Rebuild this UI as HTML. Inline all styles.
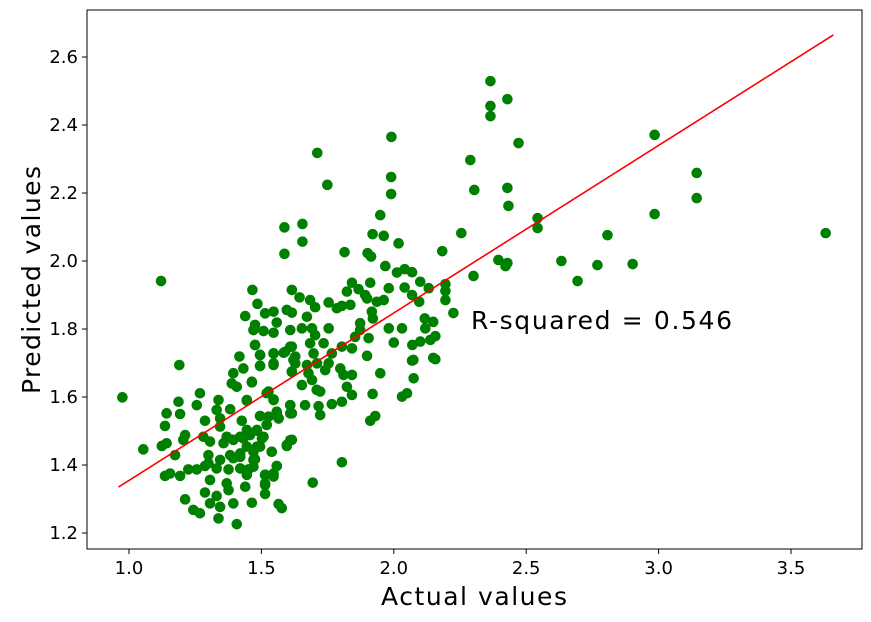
<!DOCTYPE html>
<html><head><meta charset="utf-8"><style>
body{margin:0;background:#fff;}
svg{display:block;font-family:"DejaVu Sans","Liberation Sans",sans-serif;}
</style></head><body>
<svg id="chart" width="871" height="622">
<rect x="87" y="10" width="775" height="539" fill="#fff" stroke="#000" stroke-width="1"/>
<g id="points"></g>
<g id="fit"></g>
<g id="xticks"></g>
<g id="yticks"></g>
<text x="474" y="605" text-anchor="middle" font-size="25" textLength="186">Actual values</text>
<text transform="translate(40,280) rotate(-90)" text-anchor="middle" font-size="25" textLength="228">Predicted values</text>
<text x="471" y="329" font-size="25" textLength="261">R-squared = 0.546</text>
</svg>
<script>
const xTicks=[1.0,1.5,2.0,2.5,3.0,3.5];
const xTickLabels=["1.0","1.5","2.0","2.5","3.0","3.5"];
const yTicks=[1.2,1.4,1.6,1.8,2.0,2.2,2.4,2.6];
const yTickLabels=["1.2","1.4","1.6","1.8","2.0","2.2","2.4","2.6"];
const fitX=[0.96,3.66];
const fitY=[1.335,2.665];
const actual=[1.476,1.417,1.495,1.546,1.590,1.615,1.190,1.432,1.495,1.546,1.621,1.394,1.388,1.464,1.407,1.615,0.975,1.268,1.187,1.256,1.338,1.445,1.527,1.546,1.609,1.142,1.193,1.331,1.382,1.615,1.287,1.344,1.426,1.495,1.558,1.136,1.344,1.483,1.520,1.565,1.212,1.281,1.369,1.420,1.457,1.508,1.615,1.054,1.124,1.142,1.205,1.306,1.357,1.394,1.445,1.495,1.596,1.174,1.300,1.382,1.420,1.470,1.539,1.300,1.344,1.394,1.470,1.136,1.155,1.193,1.224,1.256,1.287,1.331,1.376,1.420,1.470,1.558,1.306,1.369,1.445,1.514,1.546,1.439,1.514,1.212,1.287,1.331,1.376,1.394,1.464,1.514,1.565,1.577,1.243,1.268,1.306,1.344,1.338,1.407,
1.949,1.587,1.655,1.920,1.962,1.655,2.018,1.587,1.814,1.901,1.914,1.968,2.012,2.041,2.069,1.466,1.615,1.842,1.911,1.867,1.823,1.892,1.981,2.041,2.100,2.132,1.644,1.684,1.754,1.899,1.936,1.962,2.069,2.096,1.485,1.596,1.615,1.703,1.785,1.804,1.836,1.439,1.514,1.546,1.672,1.917,1.921,1.476,1.558,1.470,1.508,1.546,1.609,1.653,1.691,1.754,1.703,1.873,1.873,1.981,2.031,2.117,2.119,2.157,1.854,1.905,2.000,2.100,2.138,1.476,1.609,1.684,1.735,1.804,1.842,1.495,1.546,1.584,1.628,1.697,1.766,1.899,1.546,1.628,1.672,1.710,1.754,2.069,2.157,1.495,1.615,1.678,1.741,1.798,1.810,1.842,1.949,2.075,1.464,1.653,1.691,1.823,1.709,1.722,1.842,1.920,2.031,2.050,1.520,1.546,1.445,1.609,1.665,1.716,1.766,1.804,1.609,1.722,1.495,1.527,1.558,1.565,1.520,1.930,1.911,1.445,1.483,1.432,1.502,1.609,1.596,1.483,1.539,1.420,1.476,1.804,1.558,1.451,1.514,1.546,1.514,1.694,
1.121,2.365,2.365,2.365,2.429,2.471,2.289,2.304,2.429,2.433,2.543,2.543,2.429,2.395,2.422,2.301,2.255,2.183,2.195,2.195,2.149,2.070,2.074,2.149,2.633,2.694,2.769,2.807,2.902,2.985,2.985,3.144,3.144,3.631,2.225,2.195,1.749,1.711,1.991,1.990,1.990];
const predicted=[1.753,1.719,1.724,1.728,1.733,1.748,1.694,1.684,1.691,1.699,1.709,1.670,1.640,1.645,1.630,1.675,1.599,1.611,1.586,1.576,1.591,1.589,1.616,1.591,1.576,1.552,1.550,1.562,1.564,1.552,1.530,1.537,1.530,1.544,1.557,1.515,1.513,1.501,1.518,1.537,1.488,1.483,1.483,1.483,1.488,1.483,1.474,1.446,1.456,1.464,1.474,1.469,1.464,1.474,1.454,1.454,1.459,1.429,1.429,1.429,1.434,1.439,1.439,1.405,1.415,1.420,1.415,1.368,1.375,1.368,1.387,1.387,1.397,1.390,1.387,1.390,1.395,1.397,1.356,1.346,1.371,1.371,1.375,1.336,1.346,1.299,1.319,1.309,1.326,1.287,1.289,1.315,1.285,1.273,1.268,1.258,1.287,1.277,1.243,1.226,
2.135,2.099,2.109,2.079,2.074,2.057,2.052,2.021,2.026,2.023,2.013,1.985,1.966,1.976,1.967,1.915,1.915,1.936,1.936,1.917,1.910,1.900,1.920,1.922,1.939,1.920,1.893,1.885,1.878,1.890,1.880,1.885,1.900,1.880,1.874,1.856,1.848,1.864,1.861,1.868,1.871,1.838,1.846,1.851,1.836,1.851,1.831,1.812,1.819,1.797,1.794,1.789,1.797,1.802,1.802,1.802,1.782,1.817,1.797,1.802,1.802,1.831,1.802,1.779,1.777,1.773,1.760,1.763,1.768,1.753,1.748,1.758,1.758,1.748,1.743,1.723,1.728,1.730,1.719,1.728,1.728,1.721,1.694,1.699,1.694,1.699,1.699,1.707,1.711,1.692,1.674,1.670,1.679,1.684,1.665,1.665,1.670,1.655,1.643,1.635,1.650,1.630,1.621,1.616,1.606,1.609,1.601,1.611,1.611,1.593,1.591,1.576,1.576,1.573,1.579,1.586,1.552,1.547,1.544,1.542,1.552,1.537,1.518,1.544,1.530,1.503,1.503,1.478,1.478,1.473,1.456,1.454,1.439,1.424,1.417,1.408,1.397,1.387,1.371,1.366,1.341,1.348,
1.941,2.529,2.456,2.426,2.476,2.347,2.297,2.209,2.215,2.162,2.126,2.097,1.994,2.003,1.985,1.956,2.082,2.029,1.932,1.912,1.821,1.753,1.709,1.715,2.000,1.941,1.988,2.076,1.991,2.371,2.138,2.259,2.185,2.082,1.847,1.885,2.224,2.318,2.365,2.247,2.197];

const NS="http://www.w3.org/2000/svg";
const L=87,R=862,T=10,B=549;
function sx(v){return 129+(v-1.0)*264.8;}
function sy(v){return 533-(v-1.2)*340;}
const pts=document.getElementById('points');
for(let i=0;i<actual.length;i++){
  const c=document.createElementNS(NS,'circle');
  c.setAttribute('cx',sx(actual[i]));c.setAttribute('cy',sy(predicted[i]));
  c.setAttribute('r',5.3);c.setAttribute('fill','#008000');
  
  
  pts.appendChild(c);
}
const ln=document.createElementNS(NS,'line');
ln.setAttribute('x1',sx(fitX[0]));ln.setAttribute('y1',sy(fitY[0]));
ln.setAttribute('x2',sx(fitX[1]));ln.setAttribute('y2',sy(fitY[1]));
ln.setAttribute('stroke','#ff0000');ln.setAttribute('stroke-width',1.6);


document.getElementById('fit').appendChild(ln);
const xg=document.getElementById('xticks');
xTicks.forEach((v,i)=>{
  const x=sx(v);
  const t=document.createElementNS(NS,'line');
  t.setAttribute('x1',x);t.setAttribute('x2',x);t.setAttribute('y1',B);t.setAttribute('y2',B+5);t.setAttribute('stroke','#000');
  
  
  xg.appendChild(t);
  const tx=document.createElementNS(NS,'text');
  tx.setAttribute('x',x);tx.setAttribute('y',B+25);tx.setAttribute('text-anchor','middle');tx.setAttribute('font-size','18');
  tx.textContent=xTickLabels[i];
  
  
  xg.appendChild(tx);
});
const yg=document.getElementById('yticks');
yTicks.forEach((v,i)=>{
  const y=sy(v);
  const t=document.createElementNS(NS,'line');
  t.setAttribute('x1',L-5);t.setAttribute('x2',L);t.setAttribute('y1',y);t.setAttribute('y2',y);t.setAttribute('stroke','#000');
  
  
  yg.appendChild(t);
  const tx=document.createElementNS(NS,'text');
  tx.setAttribute('x',L-9);tx.setAttribute('y',y+6);tx.setAttribute('text-anchor','end');tx.setAttribute('font-size','18');
  tx.textContent=yTickLabels[i];
  
  
  yg.appendChild(tx);
});
</script>
</body></html>
